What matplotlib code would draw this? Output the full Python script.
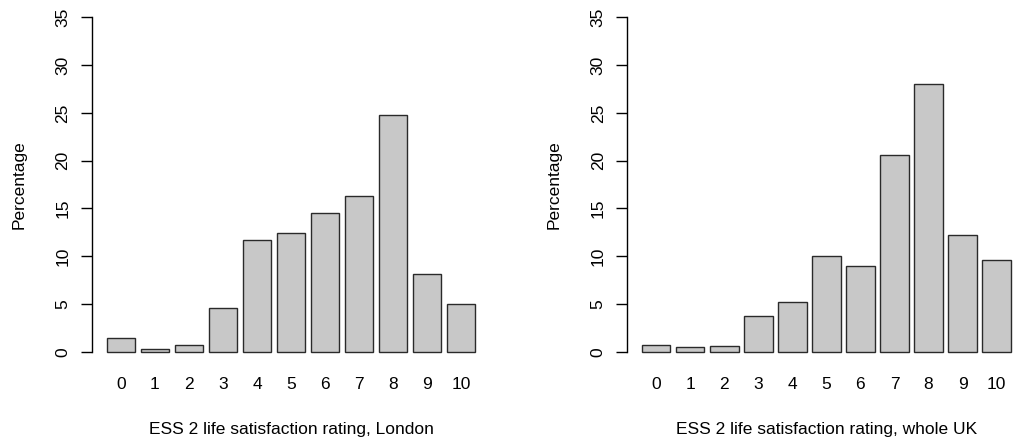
import numpy as np
import matplotlib.pyplot as plt

plt.rcParams['font.family'] = ['Liberation Sans', 'DejaVu Sans']

# ESS 2 life satisfaction, percentages per rating
ratings = [str(i) for i in range(11)]
london = [1.43, 0.31, 0.66, 4.61, 11.66, 12.43, 14.49, 16.34, 24.78, 8.13, 4.96]
whole_uk = [0.66, 0.45, 0.59, 3.70, 5.24, 9.98, 8.94, 20.63, 28.03, 12.22, 9.60]
xlabels = ['ESS 2 life satisfaction rating, London',
           'ESS 2 life satisfaction rating, whole UK']
yticks = [0, 5, 10, 15, 20, 25, 30, 35]

fig = plt.figure(figsize=(10.13, 4.43), dpi=100)

# R barplot style: width 1, space 0.2
pos = 0.2 + 1.2 * np.arange(len(ratings)) + 0.5

fs = 12.5
axes_left = [0.0908, 0.6193]
for left, vals, lab in zip(axes_left, [london, whole_uk], xlabels):
    ax = fig.add_axes([left, 0.1758, 0.3930, 0.8153])
    ax.bar(pos, vals, width=1.0, color='#c8c8c8', edgecolor='#2a2a2a', linewidth=1.0)
    ax.set_xlim(-0.32, 13.72)
    ax.set_ylim(-1.4, 36.4)
    for s in ['top', 'right', 'bottom']:
        ax.spines[s].set_visible(False)
    ax.spines['left'].set_bounds(0, 35)
    ax.spines['left'].set_linewidth(1.0)
    ax.set_yticks(yticks)
    ax.set_yticklabels([str(t) for t in yticks], rotation=90, va='center', fontsize=fs)
    ax.tick_params(axis='y', length=7.6, width=1.0, pad=8)
    ax.set_xticks(pos)
    ax.set_xticklabels(ratings, fontsize=fs)
    ax.tick_params(axis='x', length=0, pad=8.3)
    ax.set_xlabel(lab, fontsize=fs, labelpad=21.5)
    ax.set_ylabel('Percentage', fontsize=fs, labelpad=21)

fig.savefig('out.png', dpi=100)
